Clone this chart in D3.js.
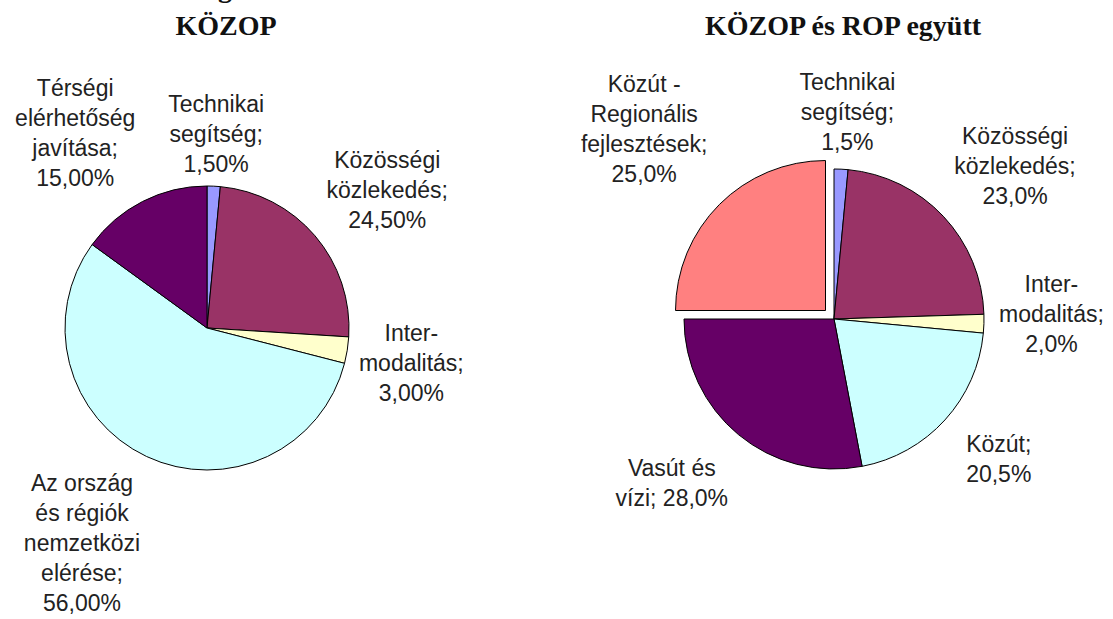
<!DOCTYPE html>
<html>
<head>
<meta charset="utf-8">
<script src="https://cdn.jsdelivr.net/npm/d3@7"></script>
<style>
  body { margin: 0; background: #fff; }
  .label { font-family: 'Liberation Sans', Arial, sans-serif; font-size: 23px; fill: #222; }
  .title { font-family: 'Liberation Serif', 'Times New Roman', serif; font-size: 28px; font-weight: bold; fill: #111; }
</style>
</head>
<body>
<svg></svg>
<script>
// chart texts
let topTitle = 'Megoszlás';   // only the descender of its g is visible at the top edge
let leftTitle = 'KÖZOP';
let rightTitle = 'KÖZOP és ROP együtt';

// left pie: KÖZOP (clockwise from 12 o'clock)
let leftNames = [
  'Technikai\nsegítség;\n{v}',
  'Közösségi\nközlekedés;\n{v}',
  'Inter-\nmodalitás;\n{v}',
  'Az ország\nés régiók\nnemzetközi\nelérése;\n{v}',
  'Térségi\nelérhetőség\njavítása;\n{v}'
];
let leftValues = [1.5, 24.5, 3.0, 56.0, 15.0];

// right pie: KÖZOP és ROP együtt
let rightNames = [
  'Technikai\nsegítség;\n{v}',
  'Közösségi\nközlekedés;\n{v}',
  'Inter-\nmodalitás;\n{v}',
  'Közút;\n{v}',
  'Vasút és\nvízi; {v}',
  'Közút -\nRegionális\nfejlesztések;\n{v}'
];
let rightValues = [1.5, 23.0, 2.0, 20.5, 28.0, 25.0];

let leftColors = ['#9999ff', '#993366', '#ffffcc', '#ccffff', '#660066'];
let rightColors = ['#9999ff', '#993366', '#ffffcc', '#ccffff', '#660066', '#ff8080'];

// configuration of svg / pies
let config = {
  'svg': { 'width': 1113, 'height': 619 },
  'lineHeight': 30,
  'left': {
    'cx': 207, 'cy': 328, 'r': 142, 'decimals': 2, 'titleX': 226,
    'labelDist': [1.37, 1.6, 1.46, 1.75, 1.66],
    'labelTurn': [0, 3, 0.7, 5, -7],
    'explode': [0, 0, 0, 0, 0]
  },
  'right': {
    'cx': 834, 'cy': 319, 'r': 150, 'decimals': 1, 'titleX': 843,
    'labelDist': [1.38, 1.58, 1.45, 1.44, 1.54, 1.79],
    'labelTurn': [1, 3, -3, -2, 5, 0],
    'explode': [0, 0, 0, 0, 0, 12]
  }
};

// hungarian number format (decimal comma)
let hu = d3.formatLocale({ 'decimal': ',', 'thousands': ' ', 'grouping': [3], 'currency': ['', ' Ft'] });

let svg = d3.select('body').select('svg');
svg.attr('width', config.svg.width);
svg.attr('height', config.svg.height);

// titles
let cut = svg.append('text').attr('class', 'title').attr('y', -3).text(topTitle);
let gNode = cut.node();
let gPos = gNode.getSubStringLength(0, 2) + gNode.getSubStringLength(2, 1) / 2;
cut.attr('x', 225 - gPos);

svg.append('text').attr('class', 'title')
  .attr('x', config.left.titleX).attr('y', 35)
  .style('text-anchor', 'middle')
  .text(leftTitle);

svg.append('text').attr('class', 'title')
  .attr('x', config.right.titleX).attr('y', 35)
  .style('text-anchor', 'middle')
  .text(rightTitle);

drawPie(config.left, leftNames, leftValues, leftColors);
drawPie(config.right, rightNames, rightValues, rightColors);

function drawPie(cfg, names, values, colors) {
  let data = names.map((n, i) => ({ 'name': n, 'value': values[i], 'color': colors[i], 'index': i }));

  let pie = d3.pie().sort(null).value(d => d.value);
  let arcs = pie(data);

  let arc = d3.arc().innerRadius(0).outerRadius(cfg.r);
  let fmt = hu.format('.' + cfg.decimals + 'f');

  let plot = svg.append('g').attr('transform', translate(cfg.cx, cfg.cy));

  // slices (pulled out ones are shifted along their middle angle)
  plot.selectAll('path.slice')
    .data(arcs)
    .enter()
    .append('path')
    .attr('class', 'slice')
    .attr('d', arc)
    .attr('transform', function(d) {
      let mid = (d.startAngle + d.endAngle) / 2;
      let e = cfg.explode[d.data.index];
      return translate(Math.sin(mid) * e, -Math.cos(mid) * e);
    })
    .style('fill', d => d.data.color)
    .style('stroke', '#000')
    .style('stroke-width', 1);

  // labels
  let lh = config.lineHeight;
  arcs.forEach(function(d) {
    let i = d.data.index;
    let rr = cfg.r * cfg.labelDist[i];
    let turn = cfg.labelTurn[i] * Math.PI / 180;
    let mid = (d.startAngle + d.endAngle) / 2 + turn;
    let labelArc = d3.arc().innerRadius(rr).outerRadius(rr).startAngle(mid).endAngle(mid);
    let p = labelArc.centroid();

    let lines = d.data.name.replace('{v}', fmt(d.data.value) + '%').split('\n');
    let y0 = p[1] - (lines.length - 1) * lh / 2 + 8;

    let text = plot.append('text')
      .attr('class', 'label')
      .style('text-anchor', 'middle');

    lines.forEach(function(line, k) {
      text.append('tspan')
        .attr('x', p[0])
        .attr('y', y0 + k * lh)
        .text(line);
    });
  });
}

// helper method to make translating easier
function translate(x, y) {
  return 'translate(' + x + ',' + y + ')';
}
</script>
</body>
</html>
